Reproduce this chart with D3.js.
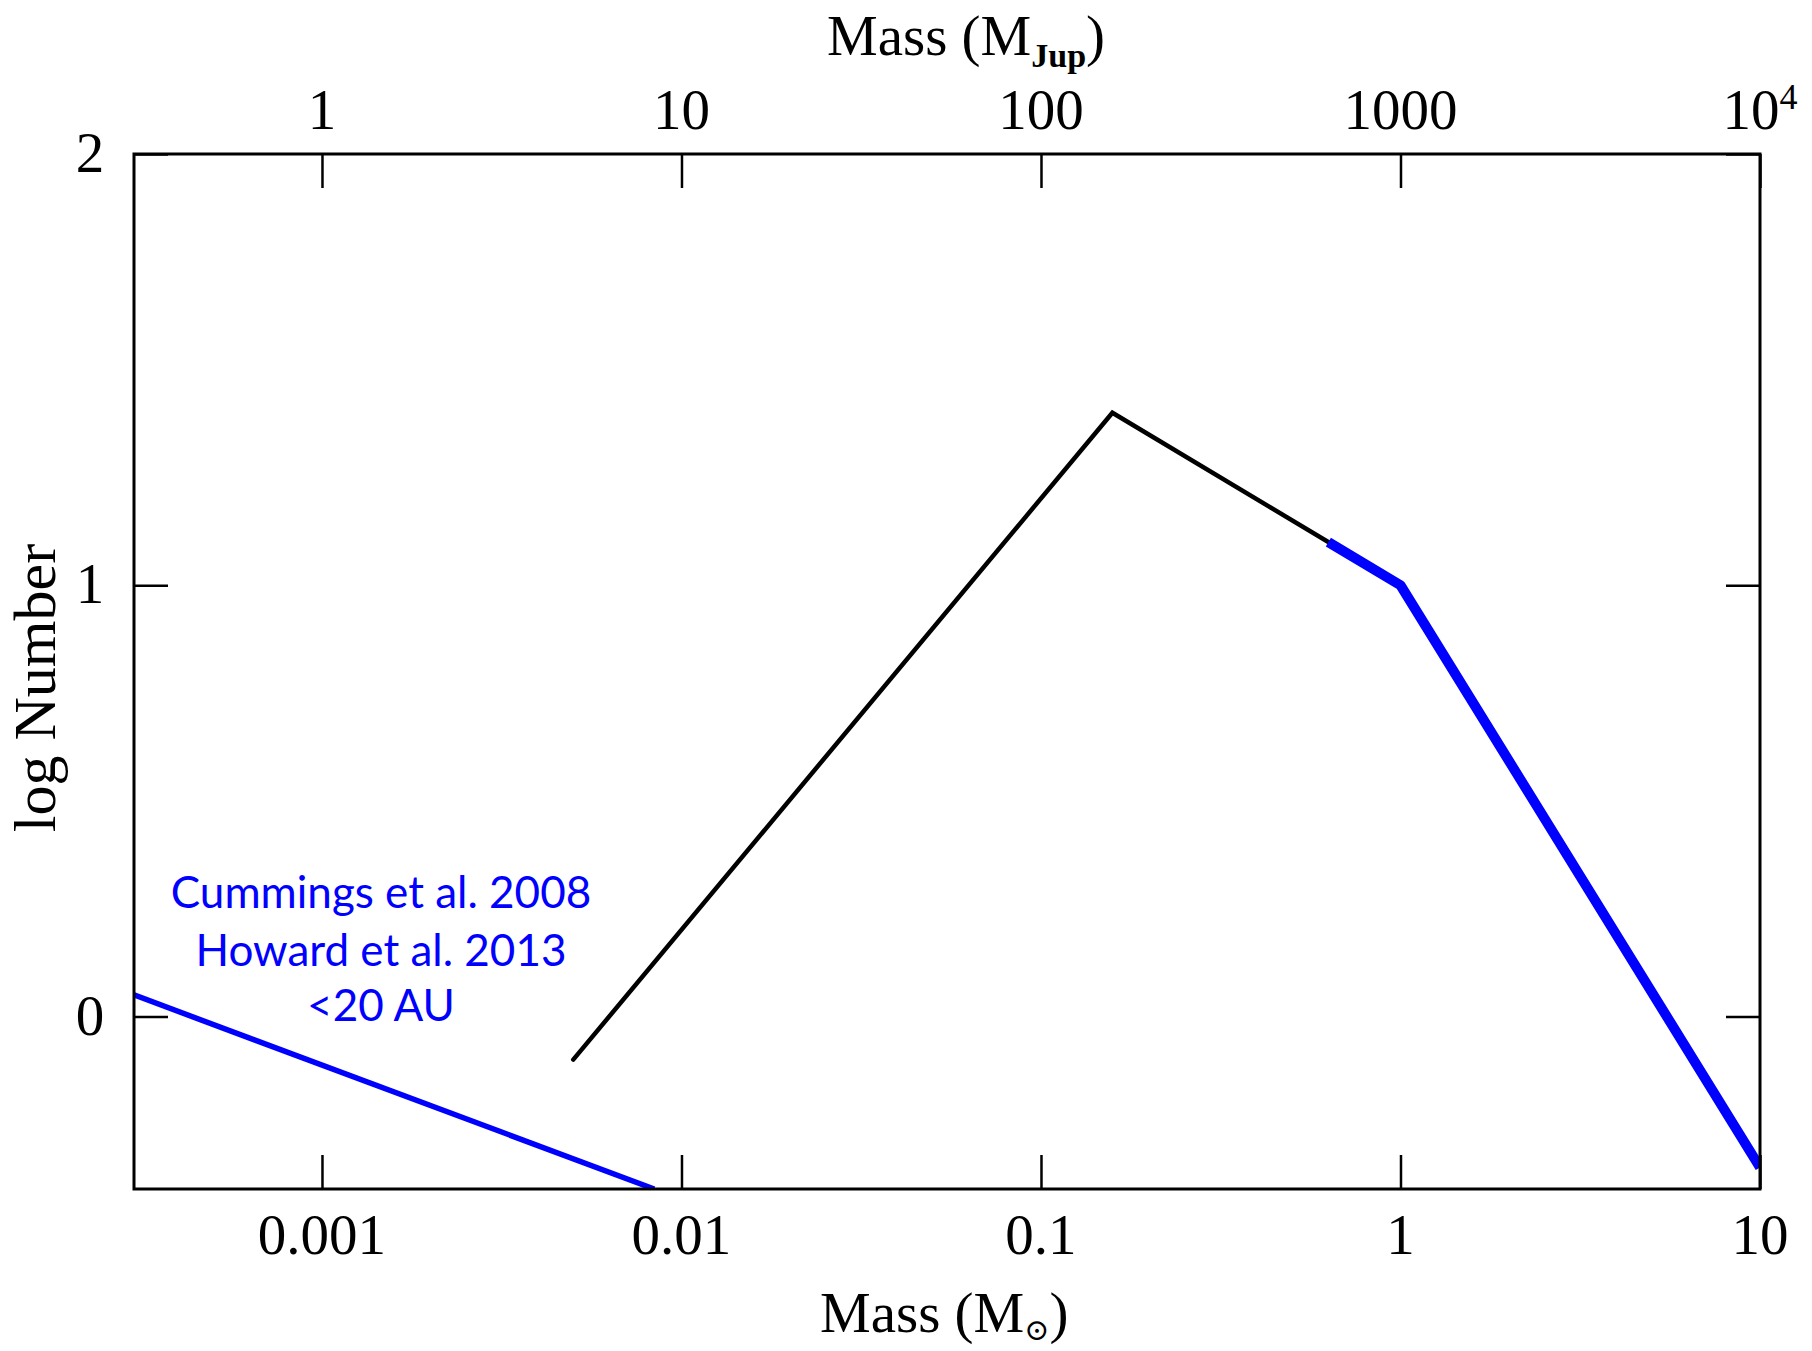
<!DOCTYPE html>
<html>
<head>
<meta charset="utf-8">
<script src="https://cdn.jsdelivr.net/npm/d3@7"></script>
<style>
  html, body { margin: 0; padding: 0; background: #fff; }
  svg { display: block; }
</style>
</head>
<body>
<svg id="chart" width="1812" height="1351"></svg>
<script>
// Axis ticks (bottom in solar masses, top in Jupiter masses)
const bottomTicks = [0.001, 0.01, 0.1, 1, 10];
const bottomTickLabels = ["0.001", "0.01", "0.1", "1", "10"];
const topTicks = [1, 10, 100, 1000, 10000];
const topTickLabels = ["1", "10", "100", "1000", "10|4"];
const yTicks = [0, 1, 2];
const yTickLabels = ["0", "1", "2"];

// Planet mass function (<20 AU), log N vs mass in M_sun
const planetMass = [0.0003, 0.0084];
const planetLogN = [0.05, -0.4];

// Stellar / brown-dwarf mass function
const imfMass = [0.005, 0.158, 1];
const imfLogN = [-0.1, 1.4, 1.0];

// High-mass segment
const starMass = [0.63, 1, 10];
const starLogN = [1.1, 1.0, -0.35];

const annotationLines = ["Cummings et al. 2008", "Howard et al. 2013", "<20 AU"];

const margin = { left: 134, right: 1812 - 1760, top: 154, bottom: 1351 - 1189 };
const W = 1812, H = 1351;
const x0 = margin.left, x1 = W - margin.right, y0 = margin.top, y1 = H - margin.bottom;

const x = d3.scaleLog().domain([0.0003, 10]).range([x0, x1]);
const xTop = d3.scaleLog().domain([0.3, 10000]).range([x0, x1]);
const y = d3.scaleLinear().domain([-0.4, 2]).range([y1, y0]);

const svg = d3.select("#chart");
const serif = "'Liberation Serif', 'DejaVu Serif', serif";

svg.append("defs").append("clipPath").attr("id", "plotClip")
  .append("rect").attr("x", x0).attr("y", y0).attr("width", x1 - x0).attr("height", y1 - y0);

const tickLen = 34;

// Axes: inward ticks on all four sides, labels drawn separately
const axB = svg.append("g").attr("transform", `translate(0,${y1})`)
  .call(d3.axisBottom(x).tickValues(bottomTicks).tickSizeInner(-tickLen).tickSizeOuter(0).tickFormat(""));
const axT = svg.append("g").attr("transform", `translate(0,${y0})`)
  .call(d3.axisTop(xTop).tickValues(topTicks).tickSizeInner(-tickLen).tickSizeOuter(0).tickFormat(""));
const axL = svg.append("g").attr("transform", `translate(${x0},0)`)
  .call(d3.axisLeft(y).tickValues(yTicks).tickSizeInner(-tickLen).tickSizeOuter(0).tickFormat(""));
const axR = svg.append("g").attr("transform", `translate(${x1},0)`)
  .call(d3.axisRight(y).tickValues(yTicks).tickSizeInner(-tickLen).tickSizeOuter(0).tickFormat(""));
[axB, axT, axL, axR].forEach(g => {
  g.select(".domain").remove();
  g.selectAll(".tick line").attr("stroke", "#000").attr("stroke-width", 2.5);
});

// Data lines
const lineGen = d3.line().x(d => x(d[0])).y(d => y(d[1]));
const plot = svg.append("g").attr("clip-path", "url(#plotClip)");

plot.append("path")
  .datum(d3.zip(imfMass, imfLogN))
  .attr("d", lineGen).attr("fill", "none")
  .attr("stroke", "#000").attr("stroke-width", 4.5)
  .attr("stroke-linejoin", "miter").attr("stroke-linecap", "round");

plot.append("path")
  .datum(d3.zip(starMass, starLogN))
  .attr("d", lineGen).attr("fill", "none")
  .attr("stroke", "#0000ff").attr("stroke-width", 10)
  .attr("stroke-linejoin", "round").attr("stroke-linecap", "butt");

plot.append("path")
  .datum(d3.zip(planetMass, planetLogN))
  .attr("d", lineGen).attr("fill", "none")
  .attr("stroke", "#0000ff").attr("stroke-width", 5.5);

// Frame
svg.append("rect")
  .attr("x", x0).attr("y", y0).attr("width", x1 - x0).attr("height", y1 - y0)
  .attr("fill", "none").attr("stroke", "#000").attr("stroke-width", 3);

// Tick labels
svg.append("g").selectAll("text").data(bottomTicks).join("text")
  .attr("x", d => x(d)).attr("y", 1254)
  .attr("text-anchor", "middle")
  .attr("font-family", serif).attr("font-size", 57)
  .text((d, i) => bottomTickLabels[i]);

const topLbl = svg.append("g").selectAll("text").data(topTicks).join("text")
  .attr("x", d => xTop(d)).attr("y", 129)
  .attr("text-anchor", "middle")
  .attr("font-family", serif).attr("font-size", 57);
topLbl.each(function(d, i) {
  const parts = topTickLabels[i].split("|");
  const t = d3.select(this);
  t.append("tspan").text(parts[0]);
  if (parts[1]) t.append("tspan").attr("dy", -20).attr("font-size", 36).text(parts[1]);
});

svg.append("g").selectAll("text").data(yTicks).join("text")
  .attr("x", 90).attr("y", d => y(d) + 18)
  .attr("text-anchor", "middle")
  .attr("font-family", serif).attr("font-size", 57)
  .text((d, i) => yTickLabels[i]);

// Axis titles
const topTitle = svg.append("text")
  .attr("x", 827).attr("y", 55)
  .attr("font-family", serif).attr("font-size", 57);
topTitle.append("tspan").text("Mass (M");
topTitle.append("tspan").attr("dy", 12).attr("font-size", 34).attr("font-weight", "bold").text("Jup");
topTitle.append("tspan").attr("dy", -12).text(")");

const botTitle = svg.append("text")
  .attr("x", 820).attr("y", 1332)
  .attr("font-family", serif).attr("font-size", 57);
botTitle.append("tspan").text("Mass (M");
botTitle.append("tspan").attr("dy", 8).attr("font-size", 30).text("\u2299");
botTitle.append("tspan").attr("dy", -8).text(")");

svg.append("text")
  .attr("transform", `translate(55,${688}) rotate(-90)`)
  .attr("text-anchor", "middle")
  .attr("font-family", serif).attr("font-size", 60)
  .text("log Number");

// Annotation
svg.append("g").selectAll("text").data(annotationLines).join("text")
  .attr("x", 381).attr("y", (d, i) => [908, 966, 1021][i])
  .attr("text-anchor", "middle")
  .attr("font-family", "Lato, 'Open Sans', sans-serif").attr("font-size", 44)
  .attr("fill", "#0000ff")
  .text(d => d);
</script>
</body>
</html>
